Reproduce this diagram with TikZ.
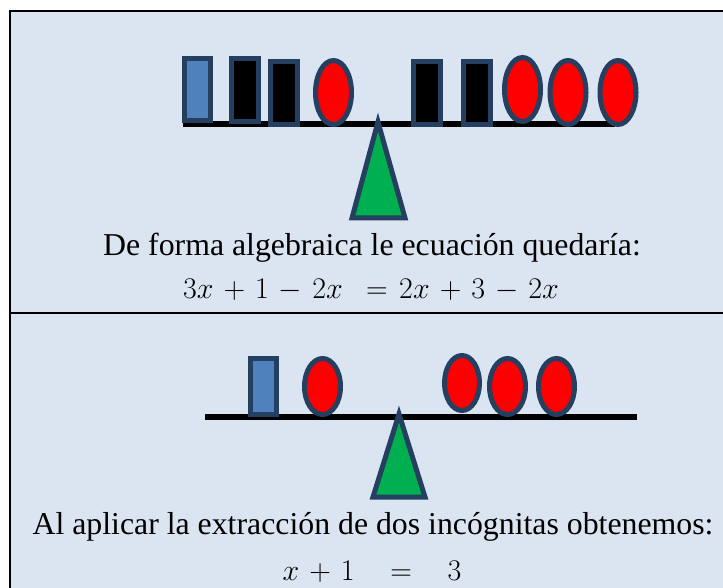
\RequirePackage{fix-cm}
\documentclass[tikz,border=0pt]{standalone}
\usepackage{fontspec}
\setmainfont{Liberation Serif}
\definecolor{bgblue}{HTML}{DBE5F1}
\definecolor{navy}{HTML}{243F60}
\definecolor{boxblue}{HTML}{4F81BD}
\definecolor{okgreen}{HTML}{00B050}
\tikzset{
  piece/.style={draw=navy, line width=5pt},
  xbox/.style={piece, fill=black},
  ubox/.style={piece, fill=boxblue},
  unit/.style={piece, fill=red},
  fulcrum/.style={piece, fill=okgreen, line join=miter},
  beam/.style={line width=6pt, black},
  frame/.style={line width=2.5pt, black},
  caption/.style={font=\fontsize{31.8}{36}\selectfont, inner sep=0pt},
  eqn/.style={font=\fontsize{30}{34}\selectfont, inner sep=0pt}
}
\medmuskip=6mu plus 2mu minus 2mu
\thickmuskip=7mu plus 2mu
\begin{document}
\begin{tikzpicture}[x=1pt,y=-1pt]
\useasboundingbox (0,0) rectangle (723,588);
\fill[bgblue] (10,11) rectangle (726,591);
\draw[frame] (10,591) -- (10,11) -- (726,11);
\draw[frame] (10,313) -- (726,313);
% top balance
\coordinate (bl1) at (183,124);
\coordinate (br1) at (615,124);
\draw[beam] (bl1) -- (br1);
\draw[ubox] (184.5,58.5) rectangle (210.5,120.5);
\draw[xbox] (231.5,58.5) rectangle (258.5,121.5);
\draw[xbox] (270.5,61.5) rectangle (297.5,124.5);
\draw[unit] (333.5,92.5) ellipse [x radius=18pt, y radius=32pt];
\draw[xbox] (413.5,61.5) rectangle (440.5,124.5);
\draw[xbox] (463.5,61.5) rectangle (490.5,124.5);
\draw[unit] (522.5,89.5) ellipse [x radius=18pt, y radius=32pt];
\draw[unit] (568,92.5) ellipse [x radius=18pt, y radius=32pt];
\draw[unit] (618,92.5) ellipse [x radius=18pt, y radius=32pt];
\draw[fulcrum] (378,122) -- (405,218) -- (352,218) -- cycle;
\node[caption] (t1) at (372,248) {De forma algebraica le ecuación quedaría:};
\node[eqn] (e1) at (371,290) {$3x+1-2x\;=2x+3-2x$};
% bottom balance
\coordinate (bl2) at (205,417);
\coordinate (br2) at (637,417);
\draw[beam] (bl2) -- (br2);
\draw[ubox] (250.5,358.5) rectangle (276.5,414.5);
\draw[unit] (322.5,386.5) ellipse [x radius=18pt, y radius=28pt];
\draw[unit] (462,383) ellipse [x radius=17.5pt, y radius=27.5pt];
\draw[unit] (507.5,386.5) ellipse [x radius=18pt, y radius=28pt];
\draw[unit] (556.5,386.5) ellipse [x radius=18pt, y radius=28pt];
\draw[fulcrum] (399,414) -- (425,497) -- (373,497) -- cycle;
\node[caption] (t2) at (373,527) {Al aplicar la extracción de dos incógnitas obtenemos:};
\node[eqn] (e2) at (372,572) {$x+1\hspace{0.8em}=\hspace{0.8em}3$};
\end{tikzpicture}
\end{document}
